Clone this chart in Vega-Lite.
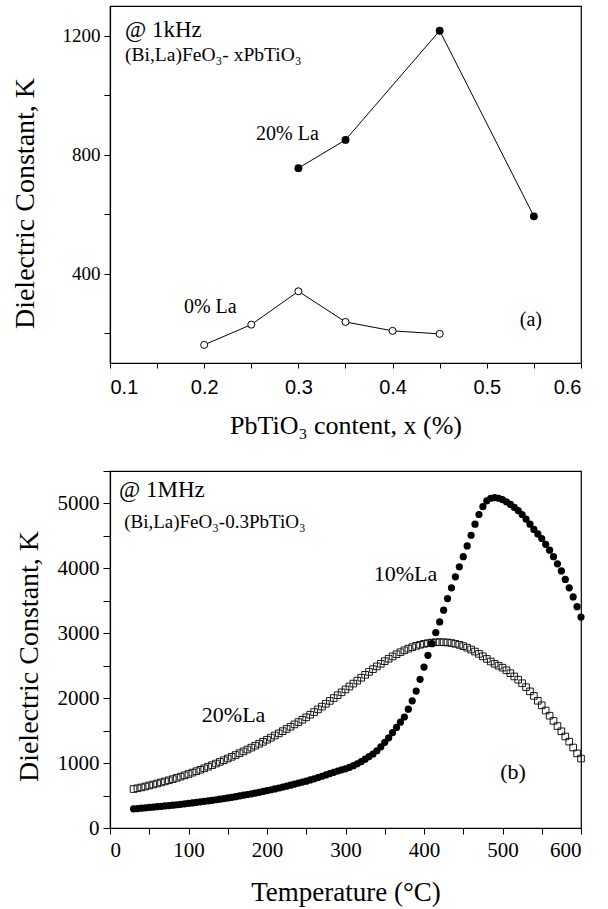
{
  "$schema": "https://vega.github.io/schema/vega-lite/v6.json",
  "padding": {"left": 10, "top": 5, "right": 5, "bottom": 5},
  "spacing": 30,
  "config": {
    "view": {"stroke": "black", "strokeWidth": 1.2},
    "axis": {"grid": false, "domainColor": "black", "tickColor": "black", "labelColor": "black", "titleColor": "black", "titleFont": "Liberation Serif", "titleFontWeight": "normal", "labelFont": "Liberation Serif", "domainWidth": 1.2, "tickWidth": 1}
  },
  "datasets": {
    "a": [
      {"x": 0.3, "K": 755, "s": "20% La"}, {"x": 0.35, "K": 850, "s": "20% La"}, {"x": 0.45, "K": 1217, "s": "20% La"}, {"x": 0.55, "K": 593, "s": "20% La"},
      {"x": 0.2, "K": 161, "s": "0% La"}, {"x": 0.25, "K": 229, "s": "0% La"}, {"x": 0.3, "K": 341, "s": "0% La"}, {"x": 0.35, "K": 238, "s": "0% La"}, {"x": 0.4, "K": 208, "s": "0% La"}, {"x": 0.45, "K": 198, "s": "0% La"}
    ],
    "b10": [
      {"T":30,"K":295},{"T":35,"K":300},{"T":40,"K":306},{"T":45,"K":311},{"T":50,"K":317},{"T":55,"K":322},{"T":60,"K":328},{"T":65,"K":334},{"T":70,"K":340},{"T":75,"K":346},
      {"T":80,"K":352},{"T":85,"K":358},{"T":90,"K":365},{"T":95,"K":372},{"T":100,"K":380},{"T":105,"K":387},{"T":110,"K":395},{"T":115,"K":403},{"T":120,"K":411},{"T":125,"K":419},
      {"T":130,"K":427},{"T":135,"K":435},{"T":140,"K":444},{"T":145,"K":453},{"T":150,"K":463},{"T":155,"K":473},{"T":160,"K":483},{"T":165,"K":494},{"T":170,"K":505},{"T":175,"K":516},
      {"T":180,"K":527},{"T":185,"K":538},{"T":190,"K":550},{"T":195,"K":563},{"T":200,"K":576},{"T":205,"K":589},{"T":210,"K":602},{"T":215,"K":616},{"T":220,"K":630},{"T":225,"K":645},
      {"T":230,"K":660},{"T":235,"K":676},{"T":240,"K":692},{"T":245,"K":708},{"T":250,"K":722},{"T":255,"K":740},{"T":260,"K":758},{"T":265,"K":777},{"T":270,"K":797},{"T":275,"K":818},
      {"T":280,"K":838},{"T":285,"K":858},{"T":290,"K":878},{"T":295,"K":896},{"T":300,"K":912},{"T":305,"K":935},{"T":310,"K":960},{"T":315,"K":990},{"T":320,"K":1022},{"T":325,"K":1060},
      {"T":330,"K":1100},{"T":335,"K":1140},{"T":340,"K":1190},{"T":345,"K":1250},{"T":350,"K":1320},{"T":355,"K":1390},{"T":360,"K":1470},{"T":365,"K":1550},{"T":370,"K":1630},{"T":375,"K":1710},
      {"T":380,"K":1830},{"T":385,"K":1960},{"T":390,"K":2110},{"T":395,"K":2290},{"T":400,"K":2480},{"T":405,"K":2660},{"T":410,"K":2840},{"T":415,"K":3010},{"T":420,"K":3175},{"T":425,"K":3355},
      {"T":430,"K":3535},{"T":435,"K":3700},{"T":440,"K":3870},{"T":445,"K":4025},{"T":450,"K":4180},{"T":455,"K":4345},{"T":460,"K":4510},{"T":465,"K":4680},{"T":470,"K":4830},{"T":475,"K":4950},
      {"T":480,"K":5040},{"T":485,"K":5080},{"T":490,"K":5090},{"T":495,"K":5080},{"T":500,"K":5060},{"T":505,"K":5025},{"T":510,"K":4985},{"T":515,"K":4940},{"T":520,"K":4890},{"T":525,"K":4830},
      {"T":530,"K":4760},{"T":535,"K":4680},{"T":540,"K":4600},{"T":545,"K":4530},{"T":550,"K":4460},{"T":555,"K":4370},{"T":560,"K":4280},{"T":565,"K":4180},{"T":570,"K":4070},{"T":575,"K":3960},
      {"T":580,"K":3830},{"T":585,"K":3700},{"T":590,"K":3560},{"T":595,"K":3410},{"T":600,"K":3250}
    ],
    "b20": [
      {"T":30,"K":600},{"T":35,"K":612},{"T":40,"K":625},{"T":45,"K":640},{"T":50,"K":655},{"T":55,"K":670},{"T":60,"K":686},{"T":65,"K":702},{"T":70,"K":718},{"T":75,"K":735},
      {"T":80,"K":753},{"T":85,"K":772},{"T":90,"K":791},{"T":95,"K":811},{"T":100,"K":832},{"T":105,"K":853},{"T":110,"K":875},{"T":115,"K":897},{"T":120,"K":920},{"T":125,"K":944},
      {"T":130,"K":968},{"T":135,"K":993},{"T":140,"K":1018},{"T":145,"K":1044},{"T":150,"K":1070},{"T":155,"K":1097},{"T":160,"K":1124},{"T":165,"K":1152},{"T":170,"K":1180},{"T":175,"K":1209},
      {"T":180,"K":1238},{"T":185,"K":1268},{"T":190,"K":1298},{"T":195,"K":1328},{"T":200,"K":1360},{"T":205,"K":1392},{"T":210,"K":1425},{"T":215,"K":1458},{"T":220,"K":1492},{"T":225,"K":1526},
      {"T":230,"K":1560},{"T":235,"K":1596},{"T":240,"K":1632},{"T":245,"K":1668},{"T":250,"K":1705},{"T":255,"K":1745},{"T":260,"K":1786},{"T":265,"K":1828},{"T":270,"K":1870},{"T":275,"K":1914},
      {"T":280,"K":1958},{"T":285,"K":2002},{"T":290,"K":2046},{"T":295,"K":2090},{"T":300,"K":2135},{"T":305,"K":2180},{"T":310,"K":2225},{"T":315,"K":2270},{"T":320,"K":2315},{"T":325,"K":2360},
      {"T":330,"K":2405},{"T":335,"K":2447},{"T":340,"K":2490},{"T":345,"K":2530},{"T":350,"K":2570},{"T":355,"K":2607},{"T":360,"K":2643},{"T":365,"K":2677},{"T":370,"K":2708},{"T":375,"K":2737},
      {"T":380,"K":2763},{"T":385,"K":2786},{"T":390,"K":2806},{"T":395,"K":2823},{"T":400,"K":2837},{"T":405,"K":2848},{"T":410,"K":2856},{"T":415,"K":2861},{"T":420,"K":2863},{"T":425,"K":2862},
      {"T":430,"K":2858},{"T":435,"K":2850},{"T":440,"K":2838},{"T":445,"K":2822},{"T":450,"K":2802},{"T":455,"K":2778},{"T":460,"K":2750},{"T":465,"K":2718},{"T":470,"K":2683},{"T":475,"K":2645},
      {"T":480,"K":2605},{"T":485,"K":2565},{"T":490,"K":2530},{"T":495,"K":2500},{"T":500,"K":2470},{"T":505,"K":2430},{"T":510,"K":2385},{"T":515,"K":2335},{"T":520,"K":2285},{"T":525,"K":2230},
      {"T":530,"K":2170},{"T":535,"K":2105},{"T":540,"K":2035},{"T":545,"K":1960},{"T":550,"K":1890},{"T":555,"K":1810},{"T":560,"K":1730},{"T":565,"K":1650},{"T":570,"K":1570},{"T":575,"K":1490},
      {"T":580,"K":1410},{"T":585,"K":1330},{"T":590,"K":1240},{"T":595,"K":1150},{"T":600,"K":1070}
    ]
  },
  "vconcat": [
    {
      "width": 471,
      "height": 357,
      "encoding": {
        "x": {"field": "x", "type": "quantitative", "scale": {"domain": [0.1, 0.6], "nice": false, "zero": false},
          "axis": {"title": "PbTiO₃ content, x (%)", "titleFontSize": 26, "titleBaseline": "middle", "titleY": 62,
            "values": [0.1, 0.15, 0.2, 0.25, 0.3, 0.35, 0.4, 0.45, 0.5, 0.55, 0.6],
            "labelExpr": "round(datum.value*100) % 10 == 0 ? format(datum.value, '.1f') : ''",
            "labelFont": "Liberation Sans", "labelFontSize": 20, "tickSize": 5, "labelPadding": 9}},
        "y": {"field": "K", "type": "quantitative", "scale": {"domain": [100, 1300], "nice": false, "zero": false},
          "axis": {"title": "Dielectric Constant, K", "titleFontSize": 28, "titleX": -85, "titleY": 197, "titleAngle": -90, "titleBaseline": "middle", "titleAlign": "center",
            "values": [200, 400, 600, 800, 1000, 1200],
            "labelExpr": "datum.value % 400 == 0 ? datum.value : ''",
            "labelFontSize": 19, "tickSize": 6, "labelPadding": 4}}
      },
      "layer": [
        {"data": {"name": "a"}, "mark": {"type": "line", "color": "black", "strokeWidth": 1}, "encoding": {"detail": {"field": "s"}}},
        {"data": {"name": "a"}, "transform": [{"filter": "datum.s == '20% La'"}], "mark": {"type": "point", "shape": "circle", "filled": true, "color": "black", "size": 62, "opacity": 1}},
        {"data": {"name": "a"}, "transform": [{"filter": "datum.s == '0% La'"}], "mark": {"type": "point", "shape": "circle", "filled": true, "fill": "white", "stroke": "black", "strokeWidth": 1, "size": 50, "opacity": 1}},
        {"data": {"values": [{"x": 0.116, "K": 1219, "t": "@ 1kHz"}]}, "mark": {"type": "text", "align": "left", "baseline": "middle", "font": "Liberation Serif", "fontSize": 23, "color": "black"}, "encoding": {"text": {"field": "t"}}},
        {"data": {"values": [{"x": 0.116, "K": 1135, "t": "(Bi,La)FeO₃- xPbTiO₃"}]}, "mark": {"type": "text", "align": "left", "baseline": "middle", "font": "Liberation Serif", "fontSize": 19.5, "color": "black"}, "encoding": {"text": {"field": "t"}}},
        {"data": {"values": [{"x": 0.255, "K": 870, "t": "20% La"}, {"x": 0.1785, "K": 288, "t": "0% La"}, {"x": 0.535, "K": 245, "t": "(a)"}]}, "mark": {"type": "text", "align": "left", "baseline": "middle", "font": "Liberation Serif", "fontSize": 20, "color": "black"}, "encoding": {"text": {"field": "t"}}}
      ]
    },
    {
      "width": 471,
      "height": 357,
      "encoding": {
        "x": {"field": "T", "type": "quantitative", "scale": {"domain": [0, 600], "nice": false},
          "axis": {"title": "Temperature (°C)", "titleFontSize": 27, "titleBaseline": "middle", "titleY": 64,
            "values": [0, 50, 100, 150, 200, 250, 300, 350, 400, 450, 500, 550, 600],
            "labelExpr": "datum.value % 100 == 0 ? datum.value : ''",
            "labelFontSize": 21, "tickSize": 6, "labelPadding": 5}},
        "y": {"field": "K", "type": "quantitative", "scale": {"domain": [0, 5500], "nice": false},
          "axis": {"title": "Dielectric Constant, K", "titleFontSize": 28, "titleX": -81, "titleY": 185, "titleAngle": -90, "titleBaseline": "middle", "titleAlign": "center",
            "values": [0, 500, 1000, 1500, 2000, 2500, 3000, 3500, 4000, 4500, 5000, 5500],
            "labelExpr": "datum.value % 1000 == 0 ? datum.value : ''",
            "labelFontSize": 21, "tickSize": 7, "labelPadding": 4}}
      },
      "layer": [
        {"data": {"name": "b20"}, "mark": {"type": "point", "shape": "square", "filled": false, "stroke": "black", "strokeWidth": 0.9, "size": 44, "opacity": 1}},
        {"data": {"name": "b10"}, "mark": {"type": "point", "shape": "circle", "filled": true, "color": "black", "size": 52, "opacity": 1}},
        {"data": {"values": [{"T": 11.5, "K": 5207, "t": "@ 1MHz"}]}, "mark": {"type": "text", "align": "left", "baseline": "middle", "font": "Liberation Serif", "fontSize": 23, "color": "black"}, "encoding": {"text": {"field": "t"}}},
        {"data": {"values": [{"T": 18, "K": 4714, "t": "(Bi,La)FeO₃-0.3PbTiO₃"}]}, "mark": {"type": "text", "align": "left", "baseline": "middle", "font": "Liberation Serif", "fontSize": 19, "color": "black"}, "encoding": {"text": {"field": "t"}}},
        {"data": {"values": [{"T": 336, "K": 3913, "t": "10%La"}, {"T": 117, "K": 1741, "t": "20%La"}, {"T": 497, "K": 863, "t": "(b)"}]}, "mark": {"type": "text", "align": "left", "baseline": "middle", "font": "Liberation Serif", "fontSize": 22, "color": "black"}, "encoding": {"text": {"field": "t"}}}
      ]
    }
  ]
}
